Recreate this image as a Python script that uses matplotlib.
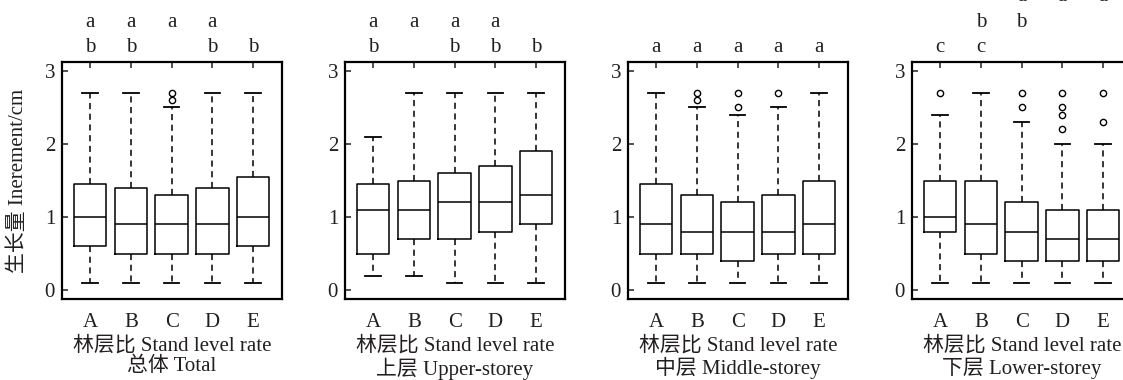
import matplotlib
matplotlib.use("Agg")
import matplotlib.pyplot as plt

plt.rcParams['font.family'] = ['Liberation Serif', 'Noto Sans CJK SC', 'DejaVu Sans']

categories = ['A', 'B', 'C', 'D', 'E']
panel_titles = ['总体 Total', '上层 Upper-storey', '中层 Middle-storey', '下层 Lower-storey']
xlabel_text = '林层比 Stand level rate'
ylabel_text = '生长量 Inerement/cm'

# per panel: lower whisker, Q1, median, Q3, upper whisker, outliers
total_low = [0.1, 0.1, 0.1, 0.1, 0.1]
total_q1 = [0.6, 0.5, 0.5, 0.5, 0.6]
total_med = [1.0, 0.9, 0.9, 0.9, 1.0]
total_q3 = [1.45, 1.4, 1.3, 1.4, 1.55]
total_high = [2.7, 2.7, 2.5, 2.7, 2.7]
total_out = [[], [], [2.6, 2.7], [], []]
total_letters = [['a', 'b'], ['a', 'b'], ['a'], ['a', 'b'], ['b']]

upper_low = [0.2, 0.2, 0.1, 0.1, 0.1]
upper_q1 = [0.5, 0.7, 0.7, 0.8, 0.9]
upper_med = [1.1, 1.1, 1.2, 1.2, 1.3]
upper_q3 = [1.45, 1.5, 1.6, 1.7, 1.9]
upper_high = [2.1, 2.7, 2.7, 2.7, 2.7]
upper_out = [[], [], [], [], []]
upper_letters = [['a', 'b'], ['a'], ['a', 'b'], ['a', 'b'], ['b']]

middle_low = [0.1, 0.1, 0.1, 0.1, 0.1]
middle_q1 = [0.5, 0.5, 0.4, 0.5, 0.5]
middle_med = [0.9, 0.8, 0.8, 0.8, 0.9]
middle_q3 = [1.45, 1.3, 1.2, 1.3, 1.5]
middle_high = [2.7, 2.5, 2.4, 2.5, 2.7]
middle_out = [[], [2.6, 2.7], [2.5, 2.7], [2.7], []]
middle_letters = [['a'], ['a'], ['a'], ['a'], ['a']]

lower_low = [0.1, 0.1, 0.1, 0.1, 0.1]
lower_q1 = [0.8, 0.5, 0.4, 0.4, 0.4]
lower_med = [1.0, 0.9, 0.8, 0.7, 0.7]
lower_q3 = [1.5, 1.5, 1.2, 1.1, 1.1]
lower_high = [2.4, 2.7, 2.3, 2.0, 2.0]
lower_out = [[2.7], [], [2.5, 2.7], [2.2, 2.4, 2.5, 2.7], [2.3, 2.7]]
lower_letters = [['c'], ['b', 'c'], ['a', 'b'], ['a'], ['a']]

panels = [
    (total_low, total_q1, total_med, total_q3, total_high, total_out, total_letters),
    (upper_low, upper_q1, upper_med, upper_q3, upper_high, upper_out, upper_letters),
    (middle_low, middle_q1, middle_med, middle_q3, middle_high, middle_out, middle_letters),
    (lower_low, lower_q1, lower_med, lower_q3, lower_high, lower_out, lower_letters),
]

W, H = 1123, 380
fig = plt.figure(figsize=(W / 100, H / 100), dpi=100)
lefts_px = [62, 345, 628, 912]
ax_w_px = 220
top_px, bot_px = 62, 299

txt_color = '#231f20'
fs = 15

for i, (lo, q1, med, q3, hi, outs, letters) in enumerate(panels):
    ax = fig.add_axes([lefts_px[i] / W, 1 - bot_px / H, ax_w_px / W, (bot_px - top_px) / H])
    stats = []
    for k in range(len(categories)):
        stats.append(dict(whislo=lo[k], q1=q1[k], med=med[k], q3=q3[k], whishi=hi[k],
                          fliers=outs[k], label=categories[k]))
    ax.bxp(stats, positions=range(1, 6), widths=0.8, capwidths=0.38, showfliers=True,
           boxprops=dict(color='black', linewidth=1.1),
           medianprops=dict(color='black', linewidth=1.1),
           whiskerprops=dict(color='black', linewidth=1.1, linestyle=(0, (4, 3))),
           capprops=dict(color='black', linewidth=1.3),
           flierprops=dict(marker='o', markersize=4.5, markerfacecolor='none',
                           markeredgecolor='black', markeredgewidth=1.0))
    ax.set_xlim(0.31, 5.71)
    ax.set_ylim(-0.12, 3.12)
    ax.set_yticks([0, 1, 2, 3])
    ax.set_xticks(range(1, 6))
    ax.set_xticklabels(categories)
    ax.tick_params(axis='y', direction='in', length=4, width=1.1, left=True, right=False,
                   labelsize=fs, colors=txt_color, pad=5)
    ax.tick_params(axis='x', direction='in', length=4, width=1.1, top=True, bottom=False,
                   labeltop=False, labelbottom=True, labelsize=fs, colors=txt_color, pad=10)
    for sp in ax.spines.values():
        sp.set_linewidth(1.6)
        sp.set_color('black')
    # significance letters
    all_letters = sorted(set(l for ls in letters for l in ls))
    nrow = len(all_letters)
    for k, ls in enumerate(letters):
        for l in ls:
            row = nrow - 1 - all_letters.index(l)
            ax.text(k + 1, 3.25 + 0.35 * row, l, ha='center', va='baseline',
                    fontsize=fs, color=txt_color, clip_on=False)
    ax.set_xlabel(xlabel_text + '\n' + panel_titles[i], fontsize=fs, color=txt_color,
                  labelpad=3, linespacing=1.1)
    if i == 0:
        ax.set_ylabel(ylabel_text, fontsize=fs, color=txt_color, labelpad=12)

fig.savefig('out.png', dpi=100)
